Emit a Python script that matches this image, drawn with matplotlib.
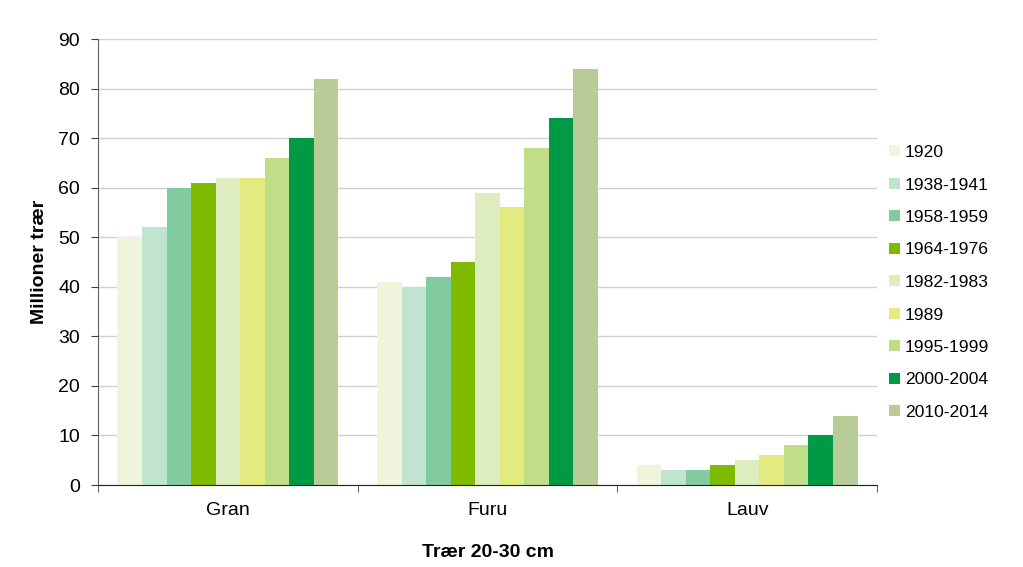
import matplotlib.pyplot as plt
import numpy as np

plt.rcParams['font.family'] = ['Liberation Sans', 'DejaVu Sans']

categories = ["Gran", "Furu", "Lauv"]
periods = ["1920", "1938-1941", "1958-1959", "1964-1976", "1982-1983",
           "1989", "1995-1999", "2000-2004", "2010-2014"]
values = {
    "1920":      [50, 41, 4],
    "1938-1941": [52, 40, 3],
    "1958-1959": [60, 42, 3],
    "1964-1976": [61, 45, 4],
    "1982-1983": [62, 59, 5],
    "1989":      [62, 56, 6],
    "1995-1999": [66, 68, 8],
    "2000-2004": [70, 74, 10],
    "2010-2014": [82, 84, 14],
}
colors = ["#EEF5DC", "#C0E4D0", "#82CBA0", "#80BA00", "#DDEDC0",
          "#E3EA80", "#C0DD88", "#009A44", "#B8CC98"]

fig = plt.figure(figsize=(10.23, 5.67), dpi=100)
ax = fig.add_axes([98 / 1023, 1 - 485 / 567, 779 / 1023, 446 / 567])

x = np.arange(len(categories))
n = len(periods)
group = 0.85
w = group / n
for i, p in enumerate(periods):
    offs = -group / 2 + w * (i + 0.5)
    ax.bar(x + offs, values[p], width=w, color=colors[i], label=p, zorder=2)

ax.set_xlim(-0.5, 2.5)
ax.set_ylim(0, 90)
ax.set_yticks(range(0, 91, 10))
ax.yaxis.grid(True, color="#D0D0D0", linewidth=1, zorder=0)
ax.set_axisbelow(True)

ax.set_xticks(x)
ax.set_xticklabels(categories)
ax.set_xticks(np.arange(-0.5, 3, 1), minor=True)
ax.tick_params(axis="x", which="major", length=0, pad=12, labelsize=14)
ax.tick_params(axis="x", which="minor", length=5, direction="out", color="#404040")
ax.tick_params(axis="y", length=5, direction="out", color="#404040", labelsize=14, pad=8)

for s in ["top", "right"]:
    ax.spines[s].set_visible(False)
ax.spines["left"].set_color("#606060")
ax.spines["bottom"].set_color("#202020")

ax.set_ylabel("Millioner trær", fontsize=14, fontweight="bold", labelpad=7)
ax.set_xlabel("Trær 20-30 cm", fontsize=14, fontweight="bold", labelpad=18)

fig.legend(loc="upper left", bbox_to_anchor=(882 / 1023, 1 - 138 / 567), frameon=False,
           fontsize=12.6, handlelength=0.6, handleheight=0.6, handletextpad=0.3,
           labelspacing=1.0, borderaxespad=0)

fig.savefig("out.png", dpi=100)
